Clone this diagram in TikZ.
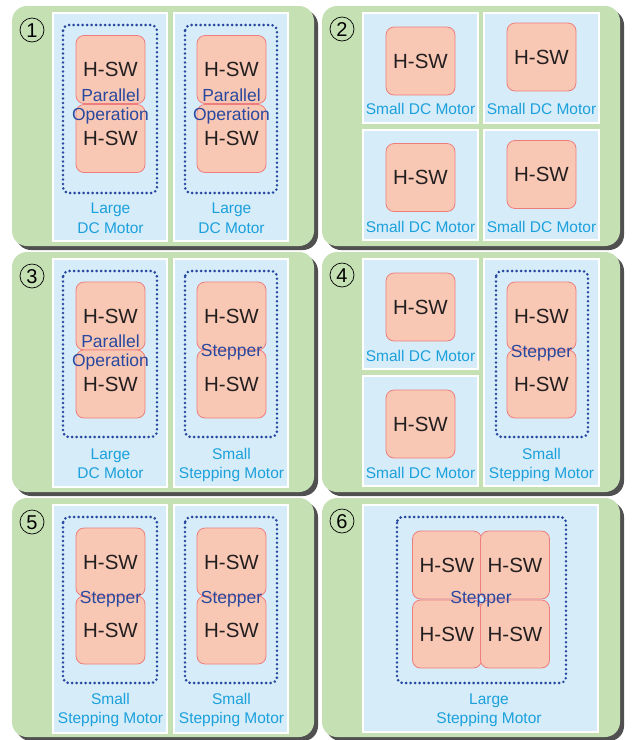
\documentclass[tikz,border=0pt]{standalone}
\usepackage{fontspec}
\setmainfont{Liberation Sans}
\definecolor{pgreen}{RGB}{197,224,178}
\definecolor{pshadow}{RGB}{80,80,80}
\definecolor{mblue}{RGB}{214,237,249}
\definecolor{hfill}{RGB}{249,200,180}
\definecolor{hline}{RGB}{238,126,126}
\definecolor{htext}{RGB}{35,31,32}
\definecolor{gblue}{RGB}{40,72,160}
\definecolor{lcyan}{RGB}{28,160,220}
\begin{document}
\begin{tikzpicture}[x=1pt,y=-1pt,
  panelshadow/.style={fill=pshadow, rounded corners=15pt},
  panelbg/.style={fill=pgreen, rounded corners=15pt},
  motor/.style={fill=mblue, draw=white, line width=1.5pt},
  hsw/.style={rectangle, rounded corners=8pt, fill=hfill, draw=hline, line width=0.8pt,
    minimum width=69pt, minimum height=68pt, inner sep=0pt,
    font=\fontsize{20.5}{24}\selectfont, text=htext, text height=14.7pt, text depth=0pt},
  grp/.style={draw=gblue, line width=2.9pt, dash pattern=on 0pt off 4.5pt, line cap=round, rounded corners=6pt},
  optext/.style={inner sep=0pt, text=gblue, font=\fontsize{17.5}{20}\selectfont, text height=12.5pt, text depth=0pt},
  lbl/.style={inner sep=0pt, text=lcyan, font=\fontsize{15.5}{18}\selectfont, text height=11.1pt, text depth=0pt},
  num/.style={circle, draw=black, line width=0.7pt, minimum size=24pt, inner sep=0pt,
    font=\fontsize{20}{22}\selectfont, text height=14.3pt, text depth=0pt}
]
\useasboundingbox (0,0) rectangle (633,740);
% panels
\foreach \xa/\ya/\xb/\yb in {12/6/314/246, 322/6/620/246, 12/252/314/492, 322/252/620/492, 12/498/314/737, 322/498/620/737}{
  \fill[panelshadow, shift={(4,4)}] (\xa,\ya) rectangle (\xb,\yb);
  \fill[panelbg] (\xa,\ya) rectangle (\xb,\yb);
}
% motor boxes
\filldraw[motor] (53,13) rectangle (167,241);
\filldraw[motor] (174,13) rectangle (288,241);
\filldraw[motor] (363,13) rectangle (478,123);
\filldraw[motor] (484,13) rectangle (599,123);
\filldraw[motor] (363,130) rectangle (478,240);
\filldraw[motor] (484,130) rectangle (599,240);
\filldraw[motor] (53,259) rectangle (167,487);
\filldraw[motor] (174,259) rectangle (288,487);
\filldraw[motor] (363,259) rectangle (478,369);
\filldraw[motor] (363,376) rectangle (478,486);
\filldraw[motor] (484,259) rectangle (599,486);
\filldraw[motor] (53,505) rectangle (167,733);
\filldraw[motor] (174,505) rectangle (288,733);
\filldraw[motor] (363,505) rectangle (598,732);
% numbers
\node[num] (n1) at (32,30) {1};
\node[num] (n2) at (342,29) {2};
\node[num] (n3) at (32,276) {3};
\node[num] (n4) at (342,275) {4};
\node[num] (n5) at (32,522) {5};
\node[num] (n6) at (342,521) {6};
% panel 1
\node[hsw] (h1a) at (110.5,69.5) {H-SW};
\node[hsw] (h1b) at (110.5,138.5) {H-SW};
\node[hsw] (h1c) at (231.5,69.5) {H-SW};
\node[hsw] (h1d) at (231.5,138.5) {H-SW};
\draw[grp] (63,25) rectangle (157,193);
\draw[grp] (185,25) rectangle (277,193);
\node[optext] (p1a) at (110.5,95) {Parallel};
\node[optext] (o1a) at (110.5,114) {Operation};
\node[optext] (p1b) at (231.5,95) {Parallel};
\node[optext] (o1b) at (231.5,114) {Operation};
\node[lbl] (l1a) at (110.5,208) {Large};
\node[lbl] (m1a) at (110.5,228) {DC Motor};
\node[lbl] (l1b) at (231.5,208) {Large};
\node[lbl] (m1b) at (231.5,228) {DC Motor};
% panel 2
\node[hsw] (h2a) at (420.5,61) {H-SW};
\node[hsw] (h2b) at (541.5,57) {H-SW};
\node[hsw] (h2c) at (420.5,177.5) {H-SW};
\node[hsw] (h2d) at (541.5,174.5) {H-SW};
\node[lbl] (l2a) at (420.5,109) {Small DC Motor};
\node[lbl] (l2b) at (541.5,109) {Small DC Motor};
\node[lbl] (l2c) at (420.5,227) {Small DC Motor};
\node[lbl] (l2d) at (541.5,227) {Small DC Motor};
% panel 3
\node[hsw] (h3a) at (110.5,316) {H-SW};
\node[hsw] (h3b) at (110.5,384) {H-SW};
\node[hsw] (h3c) at (231.5,316) {H-SW};
\node[hsw] (h3d) at (231.5,384) {H-SW};
\draw[grp] (63,271) rectangle (157,437);
\draw[grp] (185,271) rectangle (277,437);
\node[optext] (p3a) at (110.5,341) {Parallel};
\node[optext] (o3a) at (110.5,360) {Operation};
\node[optext] (s3b) at (231.5,350) {Stepper};
\node[lbl] (l3a) at (110.5,454) {Large};
\node[lbl] (m3a) at (110.5,473) {DC Motor};
\node[lbl] (l3b) at (231.5,454) {Small};
\node[lbl] (m3b) at (231.5,473) {Stepping Motor};
% panel 4
\node[hsw] (h4a) at (420.5,307) {H-SW};
\node[hsw] (h4b) at (420.5,424) {H-SW};
\node[hsw] (h4c) at (541.5,316) {H-SW};
\node[hsw] (h4d) at (541.5,384) {H-SW};
\draw[grp] (496,271) rectangle (588,437);
\node[optext] (s4) at (541.5,351) {Stepper};
\node[lbl] (l4a) at (420.5,356) {Small DC Motor};
\node[lbl] (l4b) at (420.5,473) {Small DC Motor};
\node[lbl] (l4c) at (541.5,454) {Small};
\node[lbl] (m4c) at (541.5,473) {Stepping Motor};
% panel 5
\node[hsw] (h5a) at (110.5,562) {H-SW};
\node[hsw] (h5b) at (110.5,630) {H-SW};
\node[hsw] (h5c) at (231.5,562) {H-SW};
\node[hsw] (h5d) at (231.5,630) {H-SW};
\draw[grp] (63,517) rectangle (157,683);
\draw[grp] (185,517) rectangle (277,683);
\node[optext] (s5a) at (110.5,597) {Stepper};
\node[optext] (s5b) at (231.5,597) {Stepper};
\node[lbl] (l5a) at (110.5,699) {Small};
\node[lbl] (m5a) at (110.5,718) {Stepping Motor};
\node[lbl] (l5b) at (231.5,699) {Small};
\node[lbl] (m5b) at (231.5,718) {Stepping Motor};
% panel 6
\node[hsw] (h6a) at (447,565) {H-SW};
\node[hsw] (h6b) at (515,565) {H-SW};
\node[hsw] (h6c) at (447,634) {H-SW};
\node[hsw] (h6d) at (515,634) {H-SW};
\draw[grp] (397,517) rectangle (566,683);
\node[optext] (s6) at (481,597) {Stepper};
\node[lbl] (l6) at (489,699) {Large};
\node[lbl] (m6) at (489,718) {Stepping Motor};
\end{tikzpicture}
\end{document}
